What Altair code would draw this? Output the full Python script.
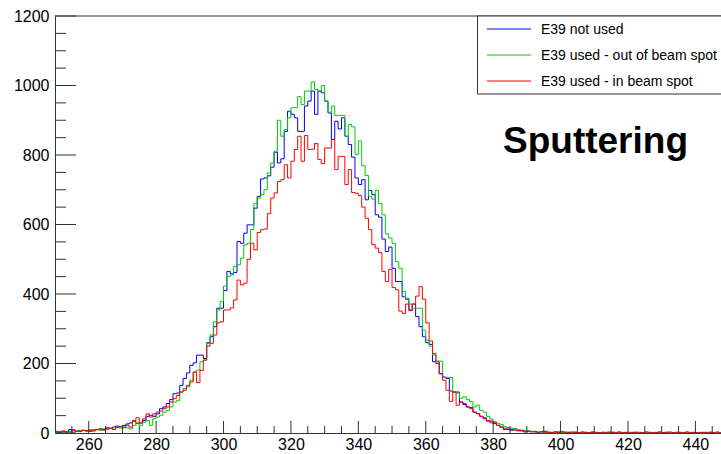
import altair as alt
import pandas as pd

# ---------------- data ----------------
x_start = 250          # first bin low edge
bin_width = 1
x_axis_max = 447.6     # right edge visible in the picture
y_max = 1200

series_names = ["E39 not used", "E39 used - out of beam spot", "E39 used - in beam spot"]
series_colors = ["#0000ff", "#00cc00", "#ff0000"]

blue_counts = [
    3, 2, 4, 3, 10, 9, 5, 6, 8, 7,            # 250
    5, 9, 10, 12, 10, 15, 13, 17, 20, 18,     # 260
    22, 26, 29, 34, 27, 29, 36, 48, 51, 48,   # 270
    55, 70, 75, 85, 96, 113, 115, 137, 157, 173,   # 280
    195, 202, 224, 224, 214, 260, 277, 306, 359, 359,  # 290
    410, 465, 458, 462, 551, 546, 575, 599, 599, 647,  # 300
    681, 731, 734, 740, 765, 808, 777, 789, 868, 926,  # 310
    917, 907, 868, 868, 941, 955, 984, 917, 984, 979,  # 320
    955, 921, 845, 897, 875, 907, 854, 830, 794, 734,  # 330
    715, 729, 671, 698, 686, 628, 621, 558, 522, 535,  # 340
    474, 436, 436, 392, 385, 354, 371, 335, 306, 277,  # 350
    260, 255, 205, 205, 171, 161, 157, 121, 118, 118,  # 360
    89, 82, 75, 73, 60, 56, 48, 41, 34, 34,   # 370
    27, 22, 17, 10, 10, 8, 12, 8, 6, 3,       # 380
    6, 4, 3, 2, 3, 5, 2, 1, 3, 2,             # 390
    1, 2, 1, 0, 2, 1, 3, 1, 0, 1,             # 400
    2, 1, 0, 2, 1, 0, 1, 3, 0, 1,             # 410
    0, 2, 1, 0, 1, 0, 2, 0, 1, 3,             # 420
    0, 1, 0, 1, 2, 0, 0, 3, 1, 0,             # 430
    1, 0, 2, 0, 1, 0, 0, 1, 0, 2,             # 440
]

green_counts = [
    2, 4, 3, 2, 5, 3, 6, 8, 7, 5,             # 250
    9, 6, 10, 8, 12, 10, 14, 11, 16, 14,      # 260
    18, 15, 12, 22, 29, 22, 31, 36, 22, 41,   # 270
    46, 51, 60, 65, 75, 89, 94, 118, 128, 133,     # 280
    152, 176, 181, 205, 209, 258, 282, 320, 354, 378,  # 290
    423, 450, 455, 479, 484, 503, 541, 546, 585, 660,  # 300
    676, 686, 700, 748, 777, 811, 900, 854, 873, 907,  # 310
    936, 936, 968, 945, 984, 984, 1010, 989, 984, 1000,  # 320
    955, 923, 941, 914, 914, 914, 854, 888, 881, 801,  # 330
    840, 769, 741, 681, 673, 698, 660, 628, 573, 561,  # 340
    546, 493, 474, 407, 388, 371, 359, 359, 359, 296,  # 350
    267, 250, 225, 207, 207, 160, 160, 160, 118, 115,  # 360
    100, 104, 96, 90, 75, 80, 65, 60, 48, 40,  # 370
    32, 28, 25, 18, 16, 14, 12, 10, 8, 7,     # 380
    5, 5, 4, 3, 4, 2, 3, 1, 2, 4,             # 390
    1, 2, 3, 1, 2, 0, 1, 2, 1, 3,             # 400
    1, 0, 2, 1, 1, 3, 0, 2, 1, 0,             # 410
    2, 1, 3, 0, 1, 2, 0, 1, 0, 2,             # 420
    1, 3, 1, 0, 2, 1, 0, 1, 2, 0,             # 430
    1, 2, 0, 1, 3, 0, 1, 0, 2, 1,             # 440
]

red_counts = [
    5, 3, 6, 4, 3, 8, 5, 4, 7, 6,             # 250
    8, 6, 9, 11, 8, 12, 14, 10, 16, 19,       # 260
    15, 22, 17, 36, 44, 29, 41, 55, 46, 55,   # 270
    60, 63, 70, 75, 89, 99, 108, 118, 123, 137,    # 280
    147, 175, 145, 180, 210, 250, 258, 282, 317, 320,  # 290
    354, 354, 360, 383, 440, 426, 431, 500, 546, 527,  # 300
    577, 585, 587, 631, 676, 691, 724, 729, 772, 734,  # 310
    782, 816, 854, 782, 856, 816, 817, 833, 787, 775,  # 320
    820, 820, 845, 758, 796, 796, 715, 758, 692, 690,  # 330
    683, 650, 618, 585, 542, 532, 519, 465, 436, 471,  # 340
    419, 412, 351, 344, 371, 352, 371, 394, 421, 385,  # 350
    317, 265, 229, 200, 170, 152, 123, 91, 118, 80,    # 360
    89, 85, 75, 70, 60, 55, 48, 44, 36, 29,   # 370
    31, 22, 17, 14, 12, 10, 8, 6, 8, 5,       # 380
    4, 3, 5, 2, 4, 3, 1, 2, 3, 1,             # 390
    4, 2, 1, 3, 2, 1, 0, 2, 1, 3,             # 400
    0, 1, 2, 0, 3, 1, 2, 0, 1, 2,             # 410
    0, 1, 0, 2, 1, 3, 0, 1, 2, 0,             # 420
    1, 0, 3, 1, 0, 2, 1, 0, 1, 2,             # 430
    0, 1, 0, 2, 0, 1, 3, 0, 1, 0,             # 440
]

x_tick_labels = [260, 280, 300, 320, 340, 360, 380, 400, 420, 440]
x_minor_ticks = [v for v in range(255, 448, 5) if v % 20 != 0]
y_tick_labels = [0, 200, 400, 600, 800, 1000, 1200]
y_minor_ticks = [v for v in range(50, 1200, 50) if v % 200 != 0]
annotation_text = "Sputtering"

# ---------------- layout ----------------
W, H = 666, 417
PAD = {"left": 55, "top": 16, "right": 0, "bottom": 21}
FONT = "Liberation Sans"
AX = "#333333"

x_scale = alt.Scale(domain=[x_start, x_axis_max], nice=False, zero=False)
y_scale = alt.Scale(domain=[0, y_max], nice=False, zero=True)
x_axis = alt.Axis(values=x_tick_labels, ticks=False, grid=False, domain=True,
                  domainColor=AX, labelFont=FONT, labelFontSize=16, format="d",
                  labelColor="black", labelPadding=3, title=None, labelFlush=False)
y_axis = alt.Axis(values=y_tick_labels, ticks=False, grid=False, domain=True,
                  domainColor=AX, labelFont=FONT, labelFontSize=16, format="d",
                  labelColor="black", labelPadding=6, title=None, labelFlush=False)


def hist_frame(counts, name):
    xs = [x_start + i * bin_width for i in range(len(counts))]
    xs.append(x_start + len(counts) * bin_width)
    vs = list(counts) + [counts[-1]]
    return pd.DataFrame({"x": xs, "v": vs, "series": name})


layers = []
for counts, name, col in zip([blue_counts, green_counts, red_counts], series_names, series_colors):
    layers.append(
        alt.Chart(hist_frame(counts, name))
        .mark_line(interpolate="step-after", strokeWidth=1, clip=True)
        .encode(x=alt.X("x:Q", scale=x_scale, axis=x_axis),
                y=alt.Y("v:Q", scale=y_scale, axis=y_axis),
                color=alt.value(col))
    )

# inward ticks (ROOT style)
def xticks(vals, length):
    return alt.Chart(pd.DataFrame({"t": vals})).mark_rule(strokeWidth=1).encode(
        x=alt.X("t:Q", scale=x_scale, axis=x_axis), y=alt.value(H), y2=alt.value(H - length),
        color=alt.value(AX))


def yticks(vals, length):
    return alt.Chart(pd.DataFrame({"t": vals})).mark_rule(strokeWidth=1).encode(
        y=alt.Y("t:Q", scale=y_scale, axis=y_axis), x=alt.value(0), x2=alt.value(length),
        color=alt.value(AX))


layers += [xticks(x_tick_labels, 12), xticks(x_minor_ticks, 7),
           yticks(y_tick_labels, 21), yticks(y_minor_ticks, 11)]

one = pd.DataFrame({"a": [0]})
# top frame line
layers.append(alt.Chart(one).mark_rule(strokeWidth=1).encode(
    x=alt.value(0), x2=alt.value(W), y=alt.value(0), color=alt.value(AX)))

# legend box
layers.append(alt.Chart(one).mark_rect(fill="white", stroke=AX, strokeWidth=1).encode(
    x=alt.value(422.5), x2=alt.value(W + 20), y=alt.value(0), y2=alt.value(78)))
leg_rows = [13, 39, 65]
for name, col, yy in zip(series_names, series_colors, leg_rows):
    layers.append(alt.Chart(one).mark_rule(strokeWidth=1.2).encode(
        x=alt.value(432), x2=alt.value(476), y=alt.value(yy), color=alt.value(col)))
    layers.append(alt.Chart(one).mark_text(text=name, font=FONT, fontSize=14,
                                           align="left", baseline="middle").encode(
        x=alt.value(486), y=alt.value(yy + 0.5), color=alt.value("black")))

# annotation
layers.append(alt.Chart(one).mark_text(text=annotation_text, font=FONT, fontSize=37,
                                       fontWeight="bold",
                                       align="left", baseline="alphabetic").encode(
    x=alt.value(448), y=alt.value(137), color=alt.value("black")))

chart = alt.layer(*layers).properties(
    width=W, height=H,
    autosize=alt.AutoSizeParams(type="none"),
    padding=PAD,
    background="white",
).configure_view(stroke=None)

chart.save("out.html", embed_options={"renderer": "svg", "actions": False})
